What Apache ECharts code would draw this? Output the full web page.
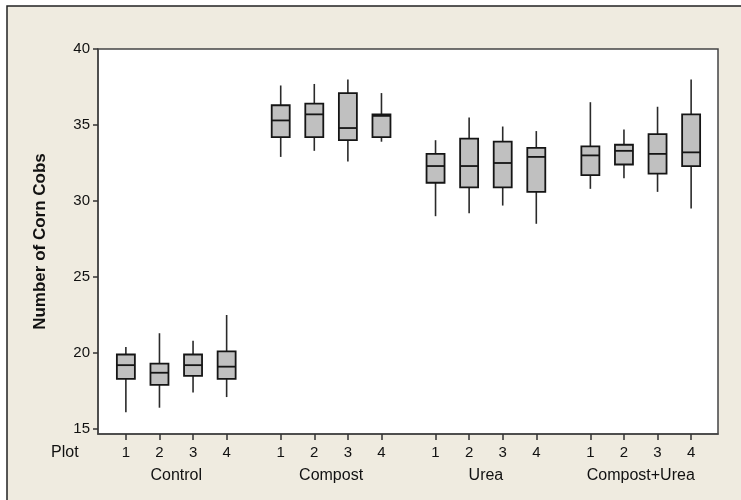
<!DOCTYPE html>
<html>
<head>
<meta charset="utf-8">
<script src="https://cdn.jsdelivr.net/npm/echarts@6/dist/echarts.min.js"></script>
<style>html,body{margin:0;padding:0;background:#fff}#c{width:741px;height:500px}</style>
</head>
<body>
<div id="c"></div>
<script>
// ---- data ----
const groups = ['Control', 'Compost', 'Urea', 'Compost+Urea'];
const plots = ['1', '2', '3', '4'];
const yTicks = [15, 20, 25, 30, 35, 40];
// per group, per plot: whisker low, Q1, median, Q3, whisker high
const whiskerLow = [
  [16.1, 16.4, 17.4, 17.1],
  [32.9, 33.3, 32.6, 33.9],
  [29.0, 29.2, 29.7, 28.5],
  [30.8, 31.5, 30.6, 29.5]
];
const q1 = [
  [18.3, 17.9, 18.5, 18.3],
  [34.2, 34.2, 34.0, 34.2],
  [31.2, 30.9, 30.9, 30.6],
  [31.7, 32.4, 31.8, 32.3]
];
const median = [
  [19.2, 18.7, 19.2, 19.1],
  [35.3, 35.7, 34.8, 35.6],
  [32.3, 32.3, 32.5, 32.9],
  [33.0, 33.3, 33.1, 33.2]
];
const q3 = [
  [19.9, 19.3, 19.9, 20.1],
  [36.3, 36.4, 37.1, 35.7],
  [33.1, 34.1, 33.9, 33.5],
  [33.6, 33.7, 34.4, 35.7]
];
const whiskerHigh = [
  [20.4, 21.3, 20.8, 22.5],
  [37.6, 37.7, 38.0, 37.1],
  [34.0, 35.5, 34.9, 34.6],
  [36.5, 34.7, 36.2, 38.0]
];

// ---- layout helpers (positions on value x axis) ----
const groupStep = 4.61;
const pos = (g, p) => p + g * groupStep;
const boxData = [];
const tickPos = [];
const tickLabel = {};
const groupPos = [];
const groupLabel = {};
groups.forEach((gName, g) => {
  plots.forEach((pName, p) => {
    const x = +pos(g, p).toFixed(3);
    boxData.push([x, whiskerLow[g][p], q1[g][p], median[g][p], q3[g][p], whiskerHigh[g][p]]);
    tickPos.push(x);
    tickLabel[x] = pName;
  });
  const c = +pos(g, 1.5).toFixed(3);
  groupPos.push(c);
  groupLabel[c] = gName;
});
const findLabel = (map, v) => {
  let best = null, bd = 1e9;
  for (const k in map) { const d = Math.abs(+k - v); if (d < bd) { bd = d; best = map[k]; } }
  return best;
};

const chart = echarts.init(document.getElementById('c'), null, {renderer: 'canvas'});
const FONT = 'Liberation Sans, Arial, sans-serif';
const xMin = -0.83, xMax = pos(3, 3) + 0.8;

chart.setOption({
  backgroundColor: '#ffffff',
  animation: false,
  textStyle: {fontFamily: FONT},
  graphic: [
    {type: 'rect', z: -100, silent: true,
     shape: {x: 7, y: 6, width: 800, height: 600},
     style: {fill: '#EFEBE0', stroke: '#222', lineWidth: 1.5}},
    {type: 'text', left: 51, top: 445, silent: true,
     style: {text: 'Plot', fill: '#111', font: '16px ' + FONT}}
  ],
  grid: {left: 98, right: 23, top: 49, bottom: 66, show: true,
         backgroundColor: '#ffffff', borderColor: '#444', borderWidth: 1.5},
  xAxis: [
    {type: 'value', min: xMin, max: xMax, position: 'bottom',
     splitLine: {show: false},
     axisLine: {show: true, onZero: false, lineStyle: {color: '#444', width: 1.5}},
     axisTick: {show: true, length: 6, lineStyle: {color: '#333', width: 1.5}, customValues: tickPos},
     axisLabel: {show: true, customValues: tickPos, margin: 11, color: '#111', fontSize: 15,
                 fontFamily: FONT, formatter: v => findLabel(tickLabel, v)}},
    {type: 'value', min: xMin, max: xMax, position: 'bottom',
     splitLine: {show: false}, axisLine: {show: false, onZero: false}, axisTick: {show: false},
     axisLabel: {show: true, customValues: groupPos, margin: 34, color: '#111', fontSize: 16,
                 fontFamily: FONT, formatter: v => findLabel(groupLabel, v)}}
  ],
  yAxis: {
    type: 'value', min: 14.67, max: 40,
    name: 'Number of Corn Cobs', nameLocation: 'middle', nameGap: 49,
    nameTextStyle: {fontSize: 17, fontWeight: 'bold', color: '#111', fontFamily: FONT},
    splitLine: {show: false},
    axisLine: {show: true, onZero: false, lineStyle: {color: '#444', width: 1.5}},
    axisTick: {show: true, length: 5, customValues: yTicks, lineStyle: {color: '#333', width: 1.5}},
    axisLabel: {show: true, customValues: yTicks, margin: 8, color: '#111', fontSize: 15, fontFamily: FONT}
  },
  series: [{
    type: 'custom',
    xAxisIndex: 0,
    data: boxData,
    encode: {x: 0, y: [1, 2, 3, 4, 5]},
    renderItem: function (params, api) {
      const x = api.value(0);
      const lo = api.coord([x, api.value(1)]);
      const b1 = api.coord([x, api.value(2)]);
      const md = api.coord([x, api.value(3)]);
      const b3 = api.coord([x, api.value(4)]);
      const hi = api.coord([x, api.value(5)]);
      const cx = lo[0];
      const hw = 9;
      return {
        type: 'group',
        children: [
          {type: 'line', shape: {x1: cx, y1: hi[1], x2: cx, y2: b3[1]},
           style: {stroke: '#2a2a2a', lineWidth: 1.6}},
          {type: 'line', shape: {x1: cx, y1: b1[1], x2: cx, y2: lo[1]},
           style: {stroke: '#2a2a2a', lineWidth: 1.6}},
          {type: 'rect', shape: {x: cx - hw, y: b3[1], width: hw * 2, height: b1[1] - b3[1]},
           style: {fill: '#C0C0C0', stroke: '#151515', lineWidth: 1.8}},
          {type: 'line', shape: {x1: cx - hw, y1: md[1], x2: cx + hw, y2: md[1]},
           style: {stroke: '#151515', lineWidth: 1.8}}
        ]
      };
    }
  }]
});
</script>
</body>
</html>
